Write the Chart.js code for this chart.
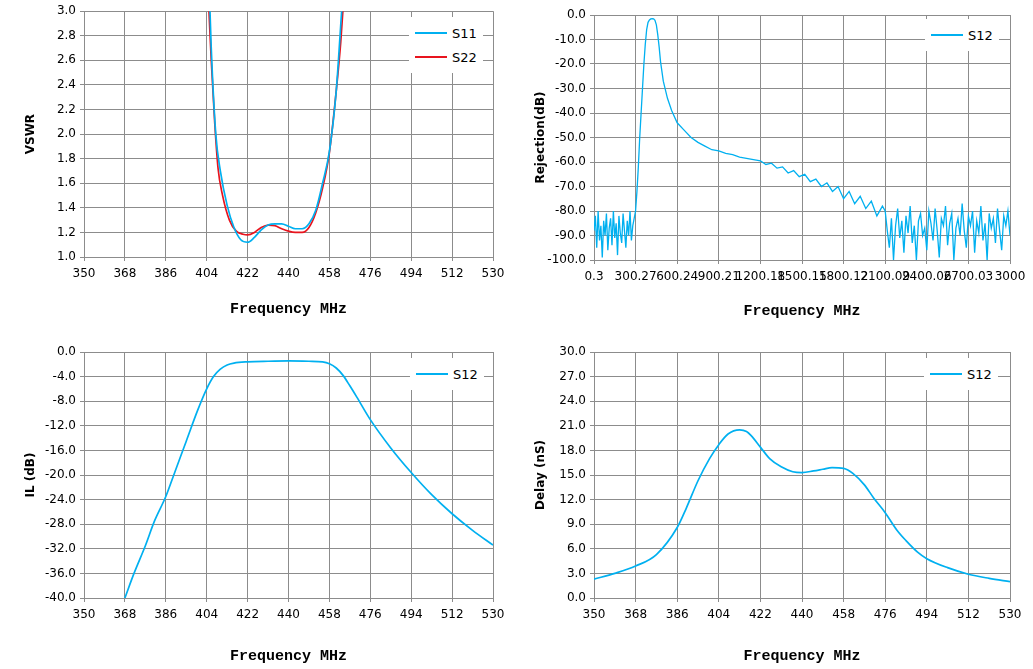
<!DOCTYPE html>
<html><head><meta charset="utf-8">
<script src="https://cdn.jsdelivr.net/npm/chart.js@4"></script>
<style>
body{margin:0;background:#fff;width:1033px;height:669px;overflow:hidden;position:relative;font-family:'DejaVu Sans',sans-serif}
canvas{position:absolute;left:0;top:0}
.lg{position:absolute;background:#fff;font-size:13px;color:#000;padding:4px 6px}
.lg div{height:24px;display:flex;align-items:center}
.lg span.l{display:inline-block;width:32px;height:2px;margin-right:5px}
</style></head><body>
<canvas id="c1" width="1033" height="669"></canvas>
<canvas id="c2" width="1033" height="669"></canvas>
<canvas id="c3" width="1033" height="669"></canvas>
<canvas id="c4" width="1033" height="669"></canvas>
<div class="lg" style="left:409px;top:17px"><div><span class="l" style="background:#00b0f0"></span>S11</div><div><span class="l" style="background:#e8141e"></span>S22</div></div>
<div class="lg" style="left:925px;top:19px"><div><span class="l" style="background:#00b0f0"></span>S12</div></div>
<div class="lg" style="left:410px;top:358px"><div><span class="l" style="background:#00b0f0"></span>S12</div></div>
<div class="lg" style="left:924px;top:358px"><div><span class="l" style="background:#00b0f0"></span>S12</div></div>
<script>
// ---- data ----
const freqTicks = [350,368,386,404,422,440,458,476,494,512,530];
const wideTicks = [0.3,300.27,600.24,900.21,1200.18,1500.15,1800.12,2100.09,2400.06,2700.03,3000];
const wideTickLabels = ["0.3","300.27","600.24","900.21","1200.18","1500.15","1800.12","2100.09","2400.06","2700.03","3000"];

const s11F = [404,406,408,410,413,416,419,422,425,428,431,434,437,440,443,446,449,452,455,458,461,463.4,465];
const s11V = [3.8,2.7,2.0,1.7,1.42,1.24,1.14,1.12,1.16,1.22,1.26,1.27,1.27,1.25,1.23,1.23,1.27,1.38,1.6,1.86,2.35,3.0,3.4];
const s22F = [403.5,405,406,407.5,409,411,414,417,420,422,425,428,431,434,437,440,443,446,449,452,455,458,461,463,465];
const s22V = [3.6,3.0,2.6,2.1,1.72,1.5,1.3,1.21,1.185,1.18,1.2,1.24,1.26,1.255,1.23,1.21,1.2,1.2,1.24,1.36,1.56,1.85,2.35,2.75,3.3];

const noiseLowV = [-88,-82,-95,-80,-92,-86,-99,-84,-90,-81,-96,-87,-83,-94,-80,-91,-85,-98,-82,-89,-93,-81,-88,-95,-84,-90,-80,-92,-86,-83];
const passF = [300,310,320,330,340,350,360,370,380,390,400,410,420,430,440,450,460,470,480,500,530,560,600,650,700,750,800,850,900,950,1000,1050,1100,1150];
const passV = [-80,-72,-62,-50,-40,-30,-20,-12,-6,-3,-2,-1.6,-1.5,-1.6,-2.2,-4,-8,-13,-19,-27,-34,-39,-44,-47,-50,-52,-53.5,-55,-55.5,-56.5,-57,-58,-58.5,-59];
const midF = [1200,1240,1280,1320,1360,1400,1440,1480,1520,1560,1600,1640,1680,1720,1760,1800,1840,1880,1920,1960,2000,2040,2080];
const midV = [-59.5,-61,-60.5,-62.5,-62,-64.5,-63.5,-66,-65,-68,-67,-70,-68.5,-72,-70,-75,-72,-77,-74,-79,-76,-82,-78];
const noiseHighV = [-80,-88,-95,-83,-100,-86,-79,-91,-84,-97,-82,-89,-78,-93,-86,-100,-84,-81,-90,-87,-96,-80,-85,-92,-79,-88,-99,-83,-86,-78,-94,-85,-81,-100,-87,-83,-90,-77,-88,-95,-82,-86,-80,-97,-84,-89,-78,-92,-85,-100,-81,-87,-83,-93,-79,-88,-96,-82,-86,-80,-90];

const ilF = [366,368,372,377,381,386,390,395,400,404,407,410,413,416,422,431,440,449,455,458,461,464,467,470,476,485,494,503,512,521,530];
const ilV = [-42,-40,-36,-31.5,-27.5,-23.5,-19.5,-14.5,-9.5,-6,-4,-2.8,-2.1,-1.8,-1.6,-1.5,-1.45,-1.5,-1.6,-1.9,-2.6,-3.8,-5.5,-7.3,-11,-15.6,-19.6,-23.2,-26.3,-29,-31.4];
const dlF = [350,359,368,377,386,390,395,400,404,408,413,416,418,422,426,431,436,440,445,449,453,458,462,467,471,476,481,485,490,494,503,512,521,530];
const dlV = [2.3,3.0,3.9,5.3,8.6,11,14.3,17,18.7,20,20.5,20.3,19.8,18.4,17,16,15.4,15.3,15.5,15.7,15.9,15.8,15.2,13.8,12.2,10.4,8.3,7,5.6,4.8,3.7,2.9,2.4,2.0];

// ---- build ----
const pts = (f,v)=>f.map((x,i)=>({x:x,y:v[i]}));
const wide = [];
noiseLowV.forEach((v,i)=>wide.push({x:i===0?0.3:i*10,y:v}));
wide.push(...pts(passF,passV));
wide.push(...pts(midF,midV));
noiseHighV.forEach((v,i)=>wide.push({x:2100+i*15,y:v}));

const BLUE='#00b0f0', RED='#e8141e', GRID='#8c8c8c';
const tickFont={family:"'DejaVu Sans'",size:12};
const titleX={display:true,text:'Frequency MHz',color:'#000',font:{family:"'Liberation Mono'",size:15,weight:'bold'}};
function yTitle(t){return {display:true,text:t,color:'#000',font:{family:"'DejaVu Sans'",size:12,weight:'bold'}};}

function mk(id, rect, datasets, xt, xl, ymin, ymax, ystep, ytitle, xh){
  const yv=[]; for(let v=ymin; v<=ymax+1e-9; v+=ystep) yv.push(+v.toFixed(4));
  new Chart(document.getElementById(id),{
    type:'scatter',
    data:{datasets:datasets},
    options:{
      responsive:false,animation:false,devicePixelRatio:1,
      layout:{padding:{left:rect.l-64,top:rect.t,right:1033-rect.r,bottom:669-rect.b-xh}},
      plugins:{legend:{display:false},tooltip:{enabled:false}},
      elements:{point:{radius:0}},
      scales:{
        x:{type:'linear',min:xt[0],max:xt[xt.length-1],
          afterBuildTicks:s=>{s.ticks=xt.map(v=>({value:v}));},
          afterFit:s=>{s.height=xh;},
          ticks:{autoSkip:false,maxRotation:0,color:'#000',font:tickFont,padding:6,
            callback:(v,i)=>xl[i]},
          grid:{color:GRID,tickLength:4},border:{color:GRID},title:titleX},
        y:{min:ymin,max:ymax,
          afterBuildTicks:s=>{s.ticks=yv.map(v=>({value:v}));},
          afterFit:s=>{s.width=64;},
          ticks:{color:'#000',font:tickFont,padding:4,callback:v=>(+v).toFixed(1)},
          grid:{color:GRID,tickLength:4},border:{color:GRID},title:yTitle(ytitle)}
      }
    }
  });
}
const ds=(d,c,t,w)=>({data:d,showLine:true,borderColor:c,borderWidth:w||1.7,tension:t,cubicInterpolationMode:t?'monotone':'default',pointRadius:0,fill:false});
const fl=freqTicks.map(String);
mk('c1',{l:84,t:11,r:493,b:257},[ds(pts(s11F,s11V),BLUE,0.4),ds(pts(s22F,s22V),RED,0.4)],freqTicks,fl,1,3,0.2,'VSWR',65);
mk('c2',{l:594,t:15,r:1010,b:260},[ds(wide,BLUE,0,1.3)],wideTicks,wideTickLabels,-100,0,10,'Rejection(dB)',64);
mk('c3',{l:84,t:352,r:493,b:598},[ds(pts(ilF,ilV),BLUE,0.4)],freqTicks,fl,-40,0,4,'IL (dB)',71);
mk('c4',{l:594,t:352,r:1010,b:598},[ds(pts(dlF,dlV),BLUE,0.4)],freqTicks,fl,0,30,3,'Delay (nS)',71);
</script></body></html>
